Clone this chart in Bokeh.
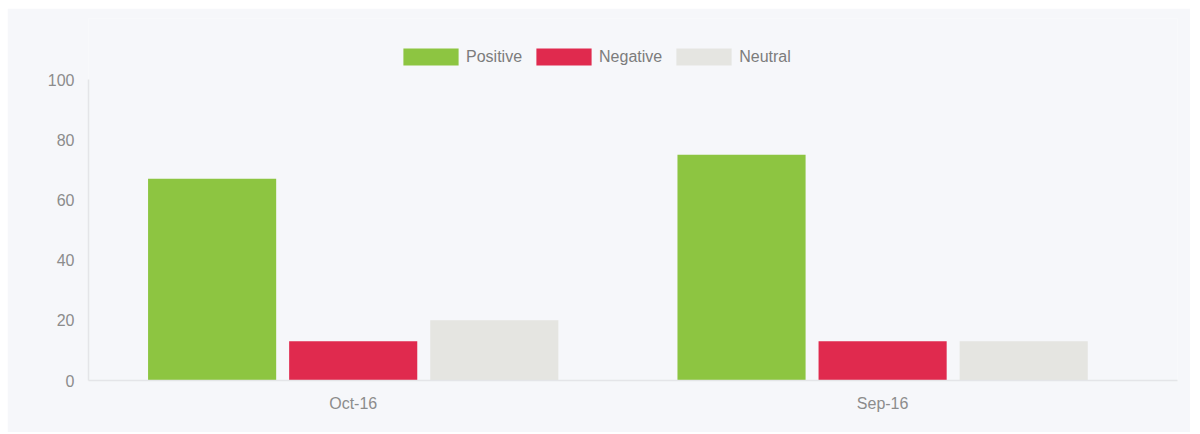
from bokeh.plotting import figure
from bokeh.models import Range1d, FixedTicker, Legend, LegendItem, ColumnDataSource
from bokeh.embed import file_html
from bokeh.resources import INLINE

months = ["Oct-16", "Sep-16"]
series = ["Positive", "Negative", "Neutral"]
positive = [67, 75]
negative = [13, 13]
neutral = [20, 13]
colors = ["#8DC541", "#E02A4E", "#E5E5E1"]

BG = "#F6F7FA"
FONT = "Liberation Sans"

p = figure(width=1183, height=424, output_backend="svg", toolbar_location=None,
           x_range=Range1d(0, 2.057), y_range=Range1d(0, 120.27),
           background_fill_color=BG, border_fill_color=BG,
           min_border_left=81, min_border_right=13, min_border_top=10, min_border_bottom=52)
p.margin = (8, 0, 0, 7)
p.outline_line_color = None
p.grid.visible = False

offsets = [-0.2665, 0.0, 0.2665]
bar_w = 0.242
renderers = []
for s, vals, off, col in zip(series, [positive, negative, neutral], offsets, colors):
    src = ColumnDataSource(dict(x=[i + 0.5 + off for i in range(len(months))], top=vals))
    r = p.vbar(x="x", top="top", bottom=0, width=bar_w, source=src,
               fill_color=col, line_color=None)
    renderers.append((s, r))

p.xaxis.ticker = FixedTicker(ticks=[i + 0.5 for i in range(len(months))])
p.xaxis.major_label_overrides = {i + 0.5: m for i, m in enumerate(months)}
p.yaxis.ticker = FixedTicker(ticks=[0, 20, 40, 60, 80, 100])
p.yaxis.bounds = (0, 100)

for ax in (p.xaxis, p.yaxis):
    ax.axis_line_color = "#E4E5E8"
    ax.axis_line_width = 1.5
    ax.major_tick_line_color = None
    ax.minor_tick_line_color = None
    ax.major_label_text_color = "#8C8C8C"
    ax.major_label_text_font = FONT
    ax.major_label_text_font_size = "16px"
p.xaxis.major_label_standoff = 8
p.yaxis.major_label_standoff = 8

legend = Legend(items=[LegendItem(label=s, renderers=[r]) for s, r in renderers],
                orientation="horizontal", location=(308, 313),
                background_fill_alpha=0, border_line_color=None,
                glyph_width=69, glyph_height=21, label_standoff=1, spacing=7,
                label_text_font=FONT, label_text_font_size="16px",
                label_text_color="#7C7C7C", margin=0, padding=0)
p.add_layout(legend, "center")

open("out.html", "w").write(file_html(p, INLINE))
